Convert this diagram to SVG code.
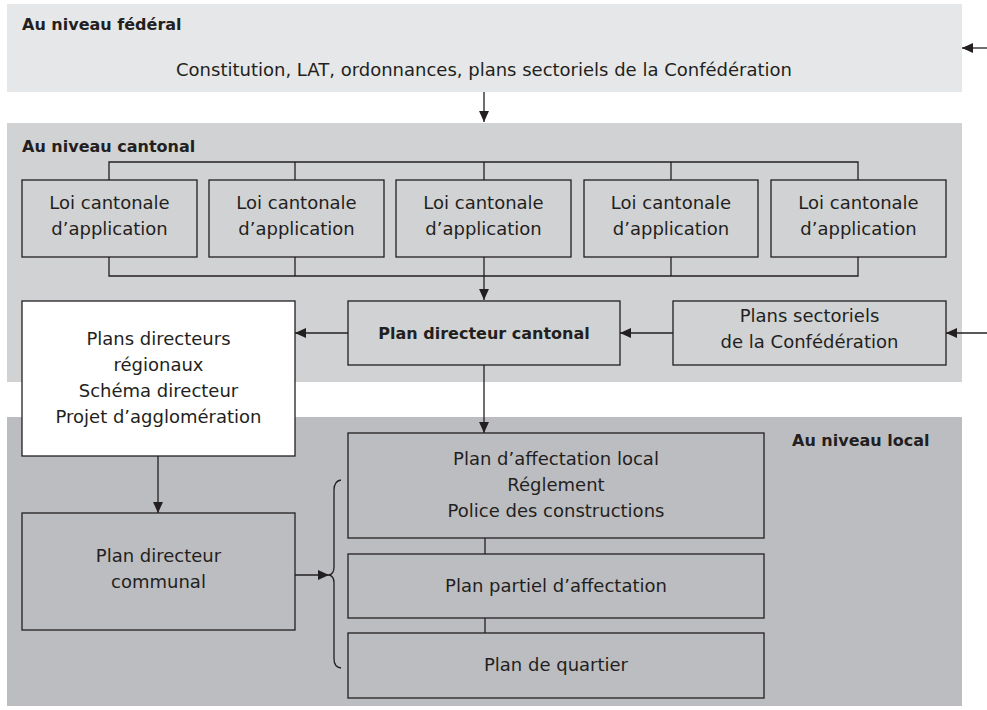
<svg xmlns="http://www.w3.org/2000/svg" width="987" height="710" viewBox="0 0 987 710">
<defs>
<marker id="ah" viewBox="0 0 10 10" refX="10" refY="5" markerWidth="11" markerHeight="11" markerUnits="userSpaceOnUse" orient="auto">
<path d="M0,0.5 L10,5 L0,9.5 Z" fill="#231f20"/>
</marker>
<style>
.box{stroke:#231f20;stroke-width:1.3}
.g{fill:#d1d2d4}
.gl{fill:#bcbdc0}
.w{fill:#ffffff}
.t{font-family:"DejaVu Sans","Noto Sans",sans-serif;font-size:18px;fill:#231f20;text-anchor:middle}
.b{font-family:"DejaVu Sans","Noto Sans",sans-serif;font-size:16px;font-weight:bold;fill:#231f20}
.c{fill:none;stroke:#231f20;stroke-width:1.3}
</style>
</defs>
<rect width="987" height="710" fill="#ffffff"/>
<g id="band-federal">
<rect x="7" y="4" width="955" height="88" fill="#e6e7e8"/>
<text class="b" x="22" y="30">Au niveau fédéral</text>
<text class="t" x="484" y="76">Constitution, LAT, ordonnances, plans sectoriels de la Confédération</text>
</g>
<g id="band-cantonal">
<rect x="7" y="123" width="955" height="259" fill="#d1d2d4"/>
<text class="b" x="22" y="152">Au niveau cantonal</text>
</g>
<g id="band-local">
<rect x="7" y="417" width="955" height="289" fill="#bcbdc0"/>
<text class="b" x="792" y="446">Au niveau local</text>
</g>
<g id="connectors">
<line class="c" x1="987" y1="48" x2="962" y2="48" marker-end="url(#ah)"/>
<line class="c" x1="484" y1="92" x2="484" y2="122" marker-end="url(#ah)"/>
<polyline class="c" points="109,180 109,162 858,162 858,180"/>
<line class="c" x1="295" y1="162" x2="295" y2="180"/>
<line class="c" x1="484" y1="162" x2="484" y2="180"/>
<line class="c" x1="671" y1="162" x2="671" y2="180"/>
<polyline class="c" points="109,257 109,276 858,276 858,257"/>
<line class="c" x1="295" y1="257" x2="295" y2="276"/>
<line class="c" x1="671" y1="257" x2="671" y2="276"/>
<line class="c" x1="484" y1="257" x2="484" y2="300" marker-end="url(#ah)"/>
<line class="c" x1="348" y1="333" x2="295" y2="333" marker-end="url(#ah)"/>
<line class="c" x1="673" y1="333" x2="620" y2="333" marker-end="url(#ah)"/>
<line class="c" x1="987" y1="333" x2="946" y2="333" marker-end="url(#ah)"/>
<line class="c" x1="484" y1="365" x2="484" y2="433" marker-end="url(#ah)"/>
<line class="c" x1="158" y1="456" x2="158" y2="513" marker-end="url(#ah)"/>
<line class="c" x1="295" y1="575" x2="329" y2="575" marker-end="url(#ah)"/>
<path class="c" d="M341,480 Q334,481 334,490 L334,567 Q334,574 329,575 Q334,576 334,583 L334,659 Q334,667 341,668"/>
<line class="c" x1="485" y1="538" x2="485" y2="554"/>
<line class="c" x1="485" y1="618" x2="485" y2="633"/>
</g>
<g id="loi1"><rect class="box g" x="22" y="180" width="175" height="77"/><text class="t" x="109.5" y="209">Loi cantonale</text><text class="t" x="109.5" y="235">d’application</text></g>
<g id="loi2"><rect class="box g" x="209" y="180" width="175" height="77"/><text class="t" x="296.5" y="209">Loi cantonale</text><text class="t" x="296.5" y="235">d’application</text></g>
<g id="loi3"><rect class="box g" x="396" y="180" width="175" height="77"/><text class="t" x="483.5" y="209">Loi cantonale</text><text class="t" x="483.5" y="235">d’application</text></g>
<g id="loi4"><rect class="box g" x="584" y="180" width="174" height="77"/><text class="t" x="671" y="209">Loi cantonale</text><text class="t" x="671" y="235">d’application</text></g>
<g id="loi5"><rect class="box g" x="771" y="180" width="175" height="77"/><text class="t" x="858.5" y="209">Loi cantonale</text><text class="t" x="858.5" y="235">d’application</text></g>
<g id="plan-directeur-cantonal"><rect class="box g" x="348" y="301" width="272" height="64"/><text class="t" x="484" y="339" style="font-weight:bold;font-size:16px">Plan directeur cantonal</text></g>
<g id="plans-sectoriels"><rect class="box g" x="673" y="301" width="273" height="64"/><text class="t" x="809.5" y="322">Plans sectoriels</text><text class="t" x="809.5" y="348">de la Confédération</text></g>
<g id="plans-directeurs-regionaux"><rect class="box w" x="22" y="301" width="273" height="155"/><text class="t" x="158.5" y="345">Plans directeurs</text><text class="t" x="158.5" y="371">régionaux</text><text class="t" x="158.5" y="397">Schéma directeur</text><text class="t" x="158.5" y="423">Projet d’agglomération</text></g>
<g id="plan-directeur-communal"><rect class="box gl" x="22" y="513" width="273" height="117"/><text class="t" x="158.5" y="562">Plan directeur</text><text class="t" x="158.5" y="588">communal</text></g>
<g id="plan-affectation-local"><rect class="box gl" x="348" y="433" width="416" height="105"/><text class="t" x="556" y="465">Plan d’affectation local</text><text class="t" x="556" y="491">Réglement</text><text class="t" x="556" y="517">Police des constructions</text></g>
<g id="plan-partiel"><rect class="box gl" x="348" y="554" width="416" height="64"/><text class="t" x="556" y="592">Plan partiel d’affectation</text></g>
<g id="plan-quartier"><rect class="box gl" x="348" y="633" width="416" height="65"/><text class="t" x="556" y="671">Plan de quartier</text></g>
</svg>
